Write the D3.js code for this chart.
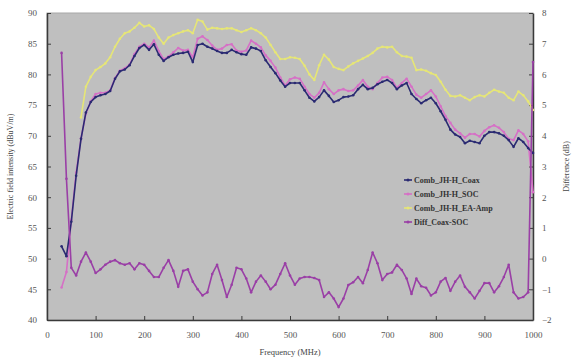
<!DOCTYPE html>
<html>
<head>
<meta charset="utf-8">
<script src="https://cdn.jsdelivr.net/npm/d3@7"></script>
<style>
  body { margin: 0; background: #fff; }
  text { font-family: "Liberation Serif", "DejaVu Serif", serif; }
</style>
</head>
<body>
<div id="chart"></div>
<script>
// frequencies (MHz)
const freqs = [30, 40, 50, 60, 70, 80, 90, 100, 110, 120, 130, 140, 150, 160, 170, 180, 190, 200,
  210, 220, 230, 240, 250, 260, 270, 280, 290, 300, 310, 320, 330, 340, 350, 360, 370, 380, 390, 400,
  410, 420, 430, 440, 450, 460, 470, 480, 490, 500, 510, 520, 530, 540, 550, 560, 570, 580, 590, 600,
  610, 620, 630, 640, 650, 660, 670, 680, 690, 700, 710, 720, 730, 740, 750, 760, 770, 780, 790, 800,
  810, 820, 830, 840, 850, 860, 870, 880, 890, 900, 910, 920, 930, 940, 950, 960, 970, 980, 990, 1000];

// field intensity, dBuV/m (left axis)
const coax = [52.0, 50.4, 56.0, 63.5, 69.5, 73.8, 75.5, 76.3, 76.6, 76.8, 77.3, 79.3, 80.5, 80.8, 81.5, 83.0, 84.3, 84.8,
  84.0, 84.9, 83.2, 82.2, 82.8, 83.2, 83.4, 83.5, 83.7, 82.0, 84.8, 85.0, 84.5, 84.2, 83.8, 83.5, 83.5, 84.0, 83.6, 83.3,
  83.2, 84.4, 84.2, 83.8, 82.3, 81.2, 80.2, 79.0, 78.0, 78.6, 78.6, 78.6, 77.4, 76.2, 75.6, 76.3, 77.4, 76.5, 75.5, 75.8,
  76.3, 76.4, 76.6, 77.6, 78.3, 77.6, 77.8, 78.4, 78.8, 79.1, 78.6, 77.6, 78.2, 78.6, 76.8, 76.0, 75.3, 75.8, 76.2, 75.3,
  74.0, 72.6, 71.0, 70.2, 69.8, 68.8, 69.2, 69.0, 68.8, 70.0, 70.6, 70.6, 70.4, 70.0, 69.3, 68.2, 69.6, 69.0, 68.0, 67.2];

const soc = [45.3, 47.8, 56.3, 64.0, 69.6, 73.6, 75.6, 76.8, 77.0, 77.0, 77.4, 79.4, 80.6, 81.0, 81.6, 83.3, 84.5, 85.0,
  84.4, 85.5, 83.8, 82.5, 82.9, 83.6, 84.3, 83.9, 84.0, 82.8, 85.8, 86.2, 85.6, 84.7, 84.0, 84.2, 84.8, 84.9, 83.9, 83.7,
  83.9, 85.5, 85.0, 84.4, 83.1, 82.2, 81.1, 79.5, 78.2, 79.2, 79.5, 79.3, 78.0, 76.8, 76.2, 77.0, 78.7, 77.6, 76.8, 77.4,
  77.6, 77.3, 77.4, 78.2, 79.1, 78.0, 77.6, 78.6, 79.5, 79.6, 79.1, 77.8, 78.6, 79.3, 78.0, 76.7, 76.2, 76.8, 77.4, 76.4,
  74.8, 73.2, 72.1, 71.0, 70.4, 69.7, 70.3, 70.3, 69.9, 70.8, 71.4, 71.7, 71.3, 70.6, 69.5, 69.3, 70.9, 70.3, 69.1, 60.8];

const eaAmp = [null, null, null, null, 73.0, 78.0, 79.6, 80.7, 81.2, 81.8, 82.8, 84.5, 85.8, 86.7, 87.0, 87.6, 88.4, 87.8,
  88.0, 87.4, 86.0, 85.0, 86.0, 86.4, 86.7, 87.0, 87.2, 86.7, 88.9, 88.6, 87.3, 87.6, 87.5, 87.4, 87.5, 87.5, 87.2, 86.9,
  87.2, 87.5, 87.2, 86.7, 86.0, 84.8, 83.6, 82.5, 82.5, 82.8, 82.7, 82.5, 81.4, 80.0, 79.1, 81.5, 83.2, 82.4, 81.2, 80.9,
  80.7, 81.3, 81.8, 82.2, 82.6, 83.0, 83.5, 84.2, 84.5, 84.4, 84.5, 83.6, 83.0, 82.9, 82.7, 80.7, 80.8, 80.6, 80.2, 79.9,
  78.8, 77.5, 76.5, 76.4, 76.6, 76.2, 75.8, 76.3, 76.6, 76.4, 77.0, 77.5, 77.2, 77.0, 76.2, 75.8, 77.2, 76.6, 75.6, 74.2];

// difference, dB (right axis)
const diff = [6.7, 2.6, -0.3, -0.55, -0.1, 0.2, -0.1, -0.47, -0.35, -0.2, -0.1, -0.05, -0.15, -0.2, -0.15, -0.35, -0.15, -0.2,
  -0.4, -0.6, -0.6, -0.3, -0.05, -0.4, -0.92, -0.4, -0.35, -0.75, -1.0, -1.2, -1.1, -0.5, -0.2, -0.7, -1.25, -0.85, -0.3, -0.35,
  -0.65, -1.1, -0.75, -0.55, -0.75, -1.0, -0.85, -0.5, -0.15, -0.55, -0.85, -0.65, -0.6, -0.6, -0.63, -0.7, -1.25, -1.1, -1.3, -1.58,
  -1.3, -0.86, -0.77, -0.6, -0.8, -0.37, 0.2, -0.15, -0.7, -0.5, -0.45, -0.2, -0.37, -0.65, -1.15, -0.65, -0.9, -0.95, -1.2, -1.1,
  -0.75, -0.63, -1.05, -0.75, -0.55, -0.92, -1.1, -1.3, -1.05, -0.8, -0.8, -1.1, -0.9, -0.6, -0.2, -1.1, -1.3, -1.25, -1.1, 6.4];

const xTicks = [0, 100, 200, 300, 400, 500, 600, 700, 800, 900, 1000];
const leftTicks = [40, 45, 50, 55, 60, 65, 70, 75, 80, 85, 90];
const rightTicks = [-2, -1, 0, 1, 2, 3, 4, 5, 6, 7, 8];

const seriesNames = ["Comb_JH-H_Coax", "Comb_JH-H_SOC", "Comb_JH-H_EA-Amp", "Diff_Coax-SOC"];

const WIDTH = 576;
const HEIGHT = 361;
const PLOT = { left: 47, right: 533, top: 13, bottom: 320 };
const COLORS = ["#2a2a72", "#d670c6", "#e6e676", "#9a3fa6"];

const svg = d3.select("#chart")
  .append("svg")
  .attr("width", WIDTH)
  .attr("height", HEIGHT);

const x = d3.scaleLinear().domain([0, 1000]).range([PLOT.left, PLOT.right]);
const yL = d3.scaleLinear().domain([40, 90]).range([PLOT.bottom, PLOT.top]);
const yR = d3.scaleLinear().domain([-2, 8]).range([PLOT.bottom, PLOT.top]);

// plot area background
svg.append("rect")
  .attr("x", PLOT.left)
  .attr("y", PLOT.top)
  .attr("width", PLOT.right - PLOT.left)
  .attr("height", PLOT.bottom - PLOT.top)
  .attr("fill", "#bfbfbf")
  .attr("stroke", "#a8a8a8");

// axes, ticks pointing inside
function styleAxis(g) {
  g.select(".domain").attr("stroke", "#3a3a3a").attr("stroke-width", 1.5);
  g.selectAll(".tick line").attr("stroke", "#3a3a3a");
  g.selectAll(".tick text")
    .attr("fill", "#555")
    .style("font-size", "9px");
}

svg.append("g")
  .attr("transform", `translate(0,${PLOT.bottom})`)
  .call(d3.axisBottom(x).tickValues(xTicks).tickFormat(d3.format("d"))
    .tickSize(-4).tickSizeOuter(0).tickPadding(12))
  .call(styleAxis);

svg.append("g")
  .attr("transform", `translate(${PLOT.left},0)`)
  .call(d3.axisLeft(yL).tickValues(leftTicks).tickSize(-4).tickSizeOuter(0).tickPadding(10))
  .call(styleAxis);

svg.append("g")
  .attr("transform", `translate(${PLOT.right},0)`)
  .call(d3.axisRight(yR).tickValues(rightTicks).tickSize(-4).tickSizeOuter(0).tickPadding(9))
  .call(styleAxis);

// axis titles
svg.append("text")
  .attr("x", (PLOT.left + PLOT.right) / 2)
  .attr("y", 355)
  .attr("text-anchor", "middle")
  .attr("fill", "#444")
  .style("font-size", "8.5px")
  .text("Frequency (MHz)");

svg.append("text")
  .attr("transform", `translate(10,${(PLOT.top + PLOT.bottom) / 2})rotate(-90)`)
  .attr("text-anchor", "middle")
  .attr("dy", "0.35em")
  .attr("fill", "#444")
  .style("font-size", "8px")
  .text("Electric field intensity (dBuV/m)");

svg.append("text")
  .attr("transform", `translate(566,${(PLOT.top + PLOT.bottom) / 2})rotate(-90)`)
  .attr("text-anchor", "middle")
  .attr("dy", "0.35em")
  .attr("fill", "#444")
  .style("font-size", "8px")
  .text("Difference (dB)");

// series
const series = [
  { values: coax, y: yL },
  { values: soc, y: yL },
  { values: eaAmp, y: yL },
  { values: diff, y: yR },
];

const order = [2, 1, 0, 3];
order.forEach(i => {
  const s = series[i];
  const pts = freqs.map((f, j) => ({ f: f, v: s.values[j] })).filter(d => d.v != null);
  const line = d3.line()
    .x(d => x(d.f))
    .y(d => s.y(d.v));

  svg.append("path")
    .datum(pts)
    .attr("d", line)
    .attr("fill", "none")
    .attr("stroke", COLORS[i])
    .attr("stroke-width", 1.6)
    .attr("stroke-linejoin", "round");

  svg.append("g")
    .selectAll("circle")
    .data(pts)
    .join("circle")
    .attr("cx", d => x(d.f))
    .attr("cy", d => s.y(d.v))
    .attr("r", 1.3)
    .attr("fill", COLORS[i]);
});

// legend
const legend = svg.append("g").attr("transform", "translate(404,180)");
seriesNames.forEach((name, i) => {
  const row = legend.append("g").attr("transform", `translate(0,${i * 14})`);
  row.append("line")
    .attr("x1", 0).attr("x2", 8)
    .attr("stroke", COLORS[i])
    .attr("stroke-width", 1.6);
  row.append("circle")
    .attr("cx", 4).attr("r", 1.5)
    .attr("fill", COLORS[i]);
  row.append("text")
    .attr("x", 10)
    .attr("dy", "0.35em")
    .attr("fill", "#333")
    .style("font-size", "8px")
    .style("font-weight", "bold")
    .text(name);
});
</script>
</body>
</html>
